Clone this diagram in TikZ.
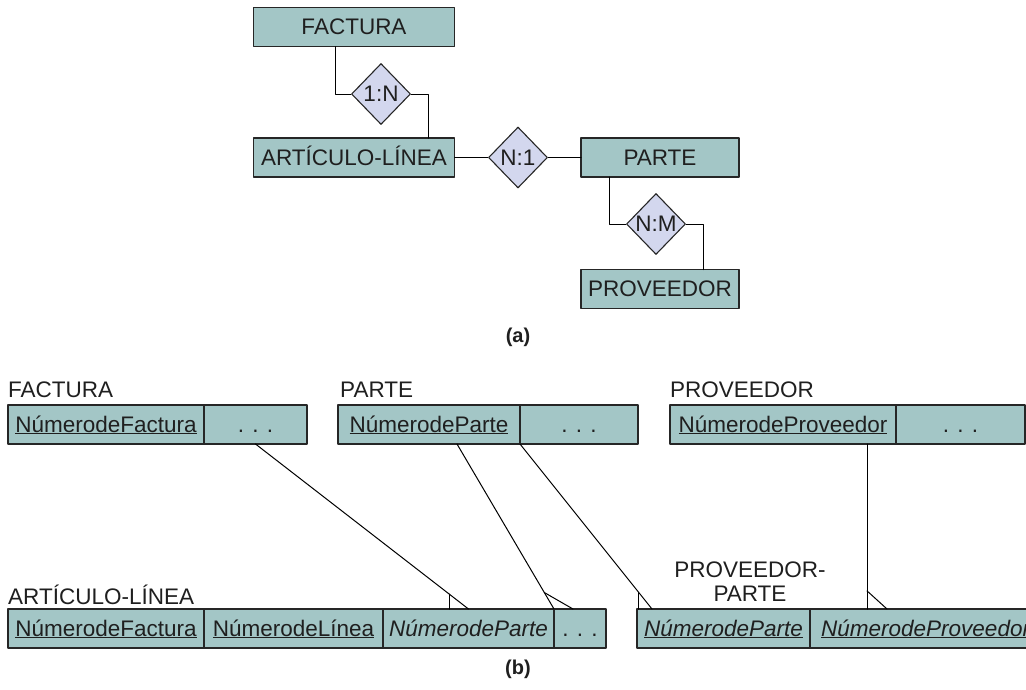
\documentclass[tikz,border=0pt]{standalone}
\usepackage{fontspec}
\setmainfont{Liberation Sans}
\usepackage{tikz}
\usetikzlibrary{shapes.geometric, positioning, calc}

\definecolor{boxfill}{RGB}{163,198,198}
\definecolor{relfill}{RGB}{211,215,238}

\begin{document}
\begin{tikzpicture}[x=1pt, y=-1pt, line join=round, line cap=round,
  every node/.style={font=\fontsize{22.5}{24}\selectfont, text=black!88},
  entity/.style={draw=black!85, line width=1.3pt, fill=boxfill, minimum height=39pt, text height=16pt, text depth=1pt, inner sep=0pt, outer sep=0pt},
  rel/.style={diamond, draw=black!85, line width=1.1pt, fill=relfill, minimum width=59pt, minimum height=61pt, inner sep=0pt},
  cell/.style={entity},
  lbl/.style={inner sep=0pt, anchor=west},
  capt/.style={font=\bfseries\fontsize{20}{24}\selectfont}]

\useasboundingbox (0,0) rectangle (1026,689);
\clip (0,0) rectangle (1026,689);

% (a) entities and relations
\node[entity, minimum width=201pt] (factura) at (354,27) {FACTURA};
\node[entity, minimum width=201pt] (articulo) at (354,157.5) {ARTÍCULO-LÍNEA};
\node[entity, minimum width=158pt] (parte) at (660,157.5) {PARTE};
\node[entity, minimum width=158pt] (proveedor) at (660,289) {PROVEEDOR};

\node[rel] (r1) at (381,94) {1:N};
\node[rel] (r2) at (518,157.5) {N:1};
\node[rel] (r3) at (656,224) {N:M};

% connectors
\draw[line width=1pt] ([xshift=-19pt]factura.south) |- (r1.west);
\draw[line width=1pt] (r1.east) -| ([xshift=74pt]articulo.north);
\draw[line width=1pt] (articulo.east) -- (r2.west);
\draw[line width=1pt] (r2.east) -- (parte.west);
\draw[line width=1pt] ([xshift=-51pt]parte.south) |- (r3.west);
\draw[line width=1pt] (r3.east) -| ([xshift=43pt]proveedor.north);

\node[capt] (capa) at (518,337) {(a)};

% (b) tables
\node[lbl] (tf) at (8,390) {FACTURA};
\node[cell, minimum width=196pt] (f1) at (106,424.5) {\underline{NúmerodeFactura}};
\node[cell, minimum width=103pt, right=0pt of f1] (f2) {. . .};

\node[lbl] (tp) at (340,390) {PARTE};
\node[cell, minimum width=182pt] (p1) at (429,424.5) {\underline{NúmerodeParte}};
\node[cell, minimum width=118pt, right=0pt of p1] (p2) {. . .};

\node[lbl] (tv) at (670,390) {PROVEEDOR};
\node[cell, minimum width=226pt] (v1) at (783,424.5) {\underline{NúmerodeProveedor}};
\node[cell, minimum width=129pt, right=0pt of v1] (v2) {. . .};

\node[lbl] (ta) at (8,595) {ARTÍCULO-LÍNEA};
\node[cell, minimum width=196pt] (a1) at (106,628.5) {\underline{NúmerodeFactura}};
\node[cell, minimum width=179pt, right=0pt of a1] (a2) {\underline{NúmerodeLínea}};
\node[cell, minimum width=171pt, right=0pt of a2] (a3) {\textit{NúmerodeParte}};
\node[cell, minimum width=52pt, right=0pt of a3] (a4) {. . .};

\node[align=center, inner sep=0pt] (ts) at (750,582) {PROVEEDOR-\\PARTE};
\node[cell, minimum width=173pt] (s1) at (723.5,628.5) {\underline{\textit{NúmerodeParte}}};
\node[cell, minimum width=232pt, right=0pt of s1] (s2) {\underline{\textit{NúmerodeProveedor}}};

\node[capt] (capb) at (518,669) {(b)};

% foreign keys
\draw[line width=1pt] (f2.south) -- (a3.north);
\coordinate (k1) at ($(f2.south)!0.91!(a3.north)$);
\draw[line width=1pt] (k1) -- (k1 |- a3.north);

\coordinate (p1b) at ([xshift=28pt]p1.south);
\draw[line width=1pt] (p1b) -- (a3.north east);
\coordinate (k2) at ($(p1b)!0.9!(a3.north east)$);
\draw[line width=1pt] (k2) -- ([xshift=19pt]a3.north east);

\coordinate (s1t) at ([xshift=15pt]s1.north west);
\draw[line width=1pt] (p1.south east) -- (s1t);
\coordinate (k3) at ($(p1.south east)!0.9!(s1t)$);
\draw[line width=1pt] (k3) -- (k3 |- s1.north);

\coordinate (v1b) at ([xshift=-29pt]v1.south east);
\coordinate (v1e) at (v1b |- s2.north);
\draw[line width=1pt] (v1b) -- (v1e);
\coordinate (k4) at ($(v1b)!0.89!(v1e)$);
\draw[line width=1pt] (k4) -- ([xshift=20pt]v1e);

\end{tikzpicture}
\end{document}
